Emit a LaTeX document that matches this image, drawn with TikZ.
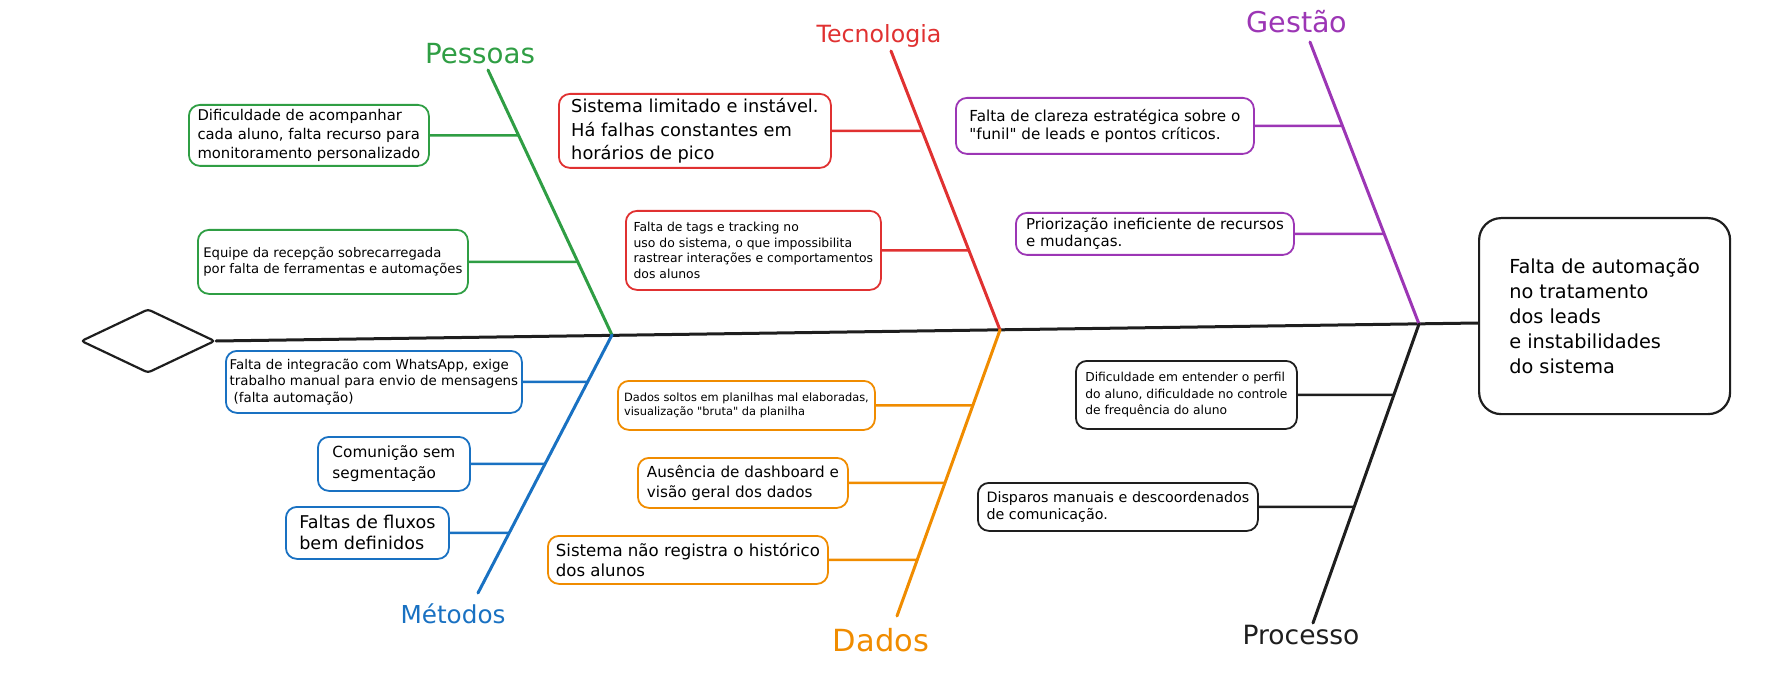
\documentclass[tikz,border=0pt]{standalone}
\usepackage{fontspec}
\setmainfont{DejaVu Sans}
\newfontfamily\quotefont{DejaVu Sans}
\usetikzlibrary{shapes.geometric}
\definecolor{pessoasgreen}{HTML}{2F9E44}
\definecolor{tecred}{HTML}{E03131}
\definecolor{metblue}{HTML}{1971C2}
\definecolor{dadosorange}{HTML}{F08C00}
\definecolor{gestpurple}{HTML}{9C36B5}
\definecolor{procink}{HTML}{1E1E1E}
\newcommand{\boxfont}[2]{\fontsize{#1}{#2}\selectfont}
\newcommand{\straightq}{{\quotefont\symbol{34}}}
\newcommand{\rib}[4]{\draw[#1, line width=2.4pt] (#2.east) -- (intersection of #2.east--#2.west and #3--#4);}
\tikzset{
  causebox/.style={draw=#1, line width=1.8pt, rounded corners=11pt, align=left, anchor=north west, inner sep=3pt, text=black},
  bone/.style={draw=#1, line width=3pt, line cap=round},
  catlabel/.style={text=#1, inner sep=0pt}
}

\begin{document}
\begin{tikzpicture}[x=1pt, y=-1pt]

  \useasboundingbox (0,0) rectangle (1770,679);

  \node[diamond, draw=procink, line width=2.2pt, rounded corners=3pt, minimum width=134pt, minimum height=64pt, inner sep=0pt] (tail) at (148,341) {};
  \node[causebox=procink, line width=2.2pt, rounded corners=22pt, minimum width=251pt, minimum height=196pt, font=\boxfont{19.3}{25}] (head) at (1478,217)
    {Falta de automação\\no tratamento\\dos leads\\e instabilidades\\do sistema};
  \coordinate (headin) at (1478,323);
  \draw[bone=procink] (tail.east) -- (headin);

  \coordinate (jp) at (612,335);
  \coordinate (jt) at (1000,330);
  \coordinate (jg) at (1419,324);

  \node[catlabel=pessoasgreen, font=\boxfont{27.7}{30}] (pLabel) at (480,54) {Pessoas};
  \node[catlabel=tecred, font=\boxfont{23.7}{26}] (tLabel) at (879,36) {Tecnologia};
  \node[catlabel=gestpurple, font=\boxfont{28.6}{30}] (gLabel) at (1297,22) {Gestão};
  \node[catlabel=metblue, font=\boxfont{24.7}{27}] (mLabel) at (453,614) {Métodos};
  \node[catlabel=dadosorange, font=\boxfont{30.5}{32}] (dLabel) at (881,640) {Dados};
  \node[catlabel=procink, font=\boxfont{26.5}{28}] (prLabel) at (1301,635) {Processo};

  \coordinate (pTop) at (488,70);
  \coordinate (mEnd) at (478,593);
  \coordinate (tTop) at (891,51);
  \coordinate (dEnd) at (897,616);
  \coordinate (gTop) at (1310,42);
  \coordinate (prEnd) at (1313,623);

  \draw[bone=pessoasgreen] (pTop) -- (jp);
  \draw[bone=metblue] (jp) -- (mEnd);
  \draw[bone=tecred] (tTop) -- (jt);
  \draw[bone=dadosorange] (jt) -- (dEnd);
  \draw[bone=gestpurple] (gTop) -- (jg);
  \draw[bone=procink] (jg) -- (prEnd);

  \node[causebox=pessoasgreen, minimum width=240pt, minimum height=61pt, font=\boxfont{14.8}{18.7}] (p1) at (188,104)
    {Dificuldade de acompanhar\\cada aluno, falta recurso para\\monitoramento personalizado};
  \node[causebox=pessoasgreen, minimum width=270pt, minimum height=64pt, font=\boxfont{13.2}{16}] (p2) at (197,229)
    {Equipe da recepção sobrecarregada\\por falta de ferramentas e automações};

  \node[causebox=metblue, minimum width=296pt, minimum height=62pt, font=\boxfont{13.4}{16.7}] (m1) at (225,350)
    {Falta de integracão com WhatsApp, exige\\trabalho manual para envio de mensagens\\\hspace{4pt}(falta automação)};
  \node[causebox=metblue, minimum width=152pt, minimum height=54pt, font=\boxfont{15.3}{20.7}] (m2) at (317,436)
    {Comunição sem\\segmentação};
  \node[causebox=metblue, minimum width=163pt, minimum height=52pt, font=\boxfont{17.6}{21}] (m3) at (285,506)
    {Faltas de fluxos\\bem definidos};

  \node[causebox=tecred, minimum width=272pt, minimum height=74pt, font=\boxfont{17.8}{23.3}] (t1) at (558,93)
    {Sistema limitado e instável.\\Há falhas constantes em\\horários de pico};
  \node[causebox=tecred, minimum width=255pt, minimum height=79pt, font=\boxfont{12.4}{15.6}] (t2) at (625,210)
    {Falta de tags e tracking no\\uso do sistema, o que impossibilita\\rastrear interações e comportamentos\\dos alunos};

  \node[causebox=dadosorange, minimum width=257pt, minimum height=49pt, font=\boxfont{11.4}{14}] (d1) at (617,380)
    {Dados soltos em planilhas mal elaboradas,\\visualização \straightq bruta\straightq{} da planilha};
  \node[causebox=dadosorange, minimum width=210pt, minimum height=50pt, font=\boxfont{15.2}{20}] (d2) at (637,457)
    {Ausência de dashboard e\\visão geral dos dados};
  \node[causebox=dadosorange, minimum width=280pt, minimum height=48pt, font=\boxfont{16.6}{19.5}] (d3) at (547,535)
    {Sistema não registra o histórico\\dos alunos};

  \node[causebox=gestpurple, minimum width=298pt, minimum height=56pt, font=\boxfont{15.2}{18.3}] (g1) at (955,97)
    {Falta de clareza estratégica sobre o\\\straightq funil\straightq{} de leads e pontos críticos.};
  \node[causebox=gestpurple, minimum width=278pt, minimum height=42pt, font=\boxfont{15}{17.3}] (g2) at (1015,212)
    {Priorização ineficiente de recursos\\e mudanças.};

  \node[causebox=procink, minimum width=221pt, minimum height=68pt, font=\boxfont{12.3}{16.3}] (pr1) at (1075,360)
    {Dificuldade em entender o perfil\\do aluno, dificuldade no controle\\de frequência do aluno};
  \node[causebox=procink, minimum width=280pt, minimum height=48pt, font=\boxfont{14.3}{16.7}] (pr2) at (977,482)
    {Disparos manuais e descoordenados\\de comunicação.};

  \rib{pessoasgreen}{p1}{pTop}{jp}
  \rib{pessoasgreen}{p2}{pTop}{jp}
  \rib{metblue}{m1}{jp}{mEnd}
  \rib{metblue}{m2}{jp}{mEnd}
  \rib{metblue}{m3}{jp}{mEnd}
  \rib{tecred}{t1}{tTop}{jt}
  \rib{tecred}{t2}{tTop}{jt}
  \rib{dadosorange}{d1}{jt}{dEnd}
  \rib{dadosorange}{d2}{jt}{dEnd}
  \rib{dadosorange}{d3}{jt}{dEnd}
  \rib{gestpurple}{g1}{gTop}{jg}
  \rib{gestpurple}{g2}{gTop}{jg}
  \rib{procink}{pr1}{jg}{prEnd}
  \rib{procink}{pr2}{jg}{prEnd}

\end{tikzpicture}
\end{document}
